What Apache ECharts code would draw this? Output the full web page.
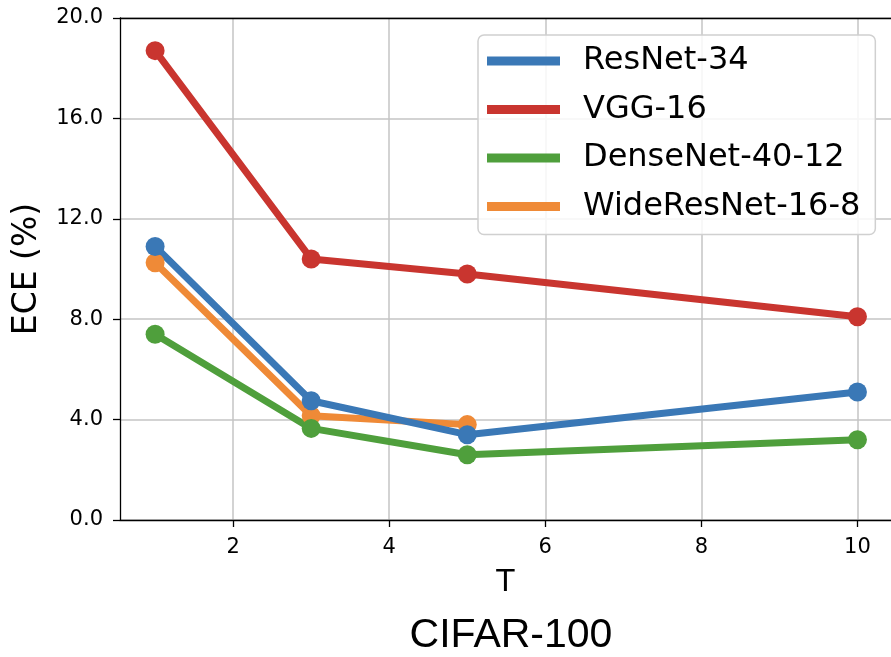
<!DOCTYPE html>
<html>
<head>
<meta charset="utf-8">
<script src="https://cdn.jsdelivr.net/npm/echarts@6/dist/echarts.min.js"></script>
<style>
html,body{margin:0;padding:0;background:#fff;}
#main{width:891px;height:657px;}
</style>
</head>
<body>
<div id="main"></div>
<script>
var xValues = [1, 3, 5, 10];
var resnet34 = [10.9, 4.75, 3.4, 5.1];
var vgg16 = [18.7, 10.4, 9.8, 8.1];
var densenet = [7.4, 3.65, 2.6, 3.2];
var wideresnet = [10.25, 4.15, 3.8, null];
var seriesNames = ['ResNet-34', 'VGG-16', 'DenseNet-40-12', 'WideResNet-16-8'];
var colors = {'ResNet-34': '#3a78b6', 'VGG-16': '#c9352f', 'DenseNet-40-12': '#4f9f3c', 'WideResNet-16-8': '#ef8a37'};
var xTicks = [2, 4, 6, 8, 10];

function pairs(vals) {
  var out = [];
  for (var i = 0; i < xValues.length; i++) {
    if (vals[i] !== null) out.push([xValues[i], vals[i]]);
  }
  return out;
}
function mk(name, vals) {
  return {
    name: name, type: 'line', data: pairs(vals),
    symbol: 'circle', symbolSize: 19, showSymbol: true,
    lineStyle: {width: 7, color: colors[name]},
    itemStyle: {color: colors[name]},
    emphasis: {disabled: true},
    animation: false
  };
}
var font = 'DejaVu Sans';
var chart = echarts.init(document.getElementById('main'), null, {renderer: 'canvas'});
chart.setOption({
  animation: false,
  title: {
    text: 'CIFAR-100', left: 506, top: 610, textAlign: 'center',
    textStyle: {fontFamily: 'Liberation Sans', fontSize: 41, fontWeight: 'normal', color: '#000'}
  },
  grid: {left: 120, top: 18, bottom: 137, right: 0},
  legend: {
    data: seriesNames,
    orient: 'vertical', left: 478, top: 35,
    padding: [10, 15, 12, 9],
    itemGap: 16.5, itemWidth: 73, itemHeight: 9, icon: 'rect',
    borderColor: '#d0d0d0', borderWidth: 1.5, borderRadius: 6,
    backgroundColor: 'rgba(255,255,255,0.85)',
    textStyle: {fontFamily: font, fontSize: 32, color: '#000', lineHeight: 31, padding: [0, 0, 0, 18]}
  },
  xAxis: [{
    type: 'value', min: 0.55, max: 10.43, interval: 2,
    name: 'T', nameLocation: 'middle', nameGap: 48,
    nameTextStyle: {fontFamily: font, fontSize: 30, color: '#000'},
    axisLine: {show: true, lineStyle: {color: '#000', width: 1.3}},
    axisTick: {show: true, length: 7, lineStyle: {color: '#000', width: 1.3}, customValues: xTicks},
    axisLabel: {fontFamily: font, fontSize: 21, color: '#000', margin: 17, customValues: xTicks},
    splitLine: {show: true, lineStyle: {color: '#c4c4c4', width: 1.5}}
  }, {
    type: 'value', position: 'top', min: 0.55, max: 10.43,
    axisLine: {show: true, onZero: false, lineStyle: {color: '#000', width: 1.3}},
    axisTick: {show: false}, axisLabel: {show: false}, splitLine: {show: false}
  }],
  yAxis: {
    type: 'value', min: 0, max: 20, interval: 4,
    name: 'ECE (%)', nameLocation: 'middle', nameGap: 76, nameRotate: 90,
    nameTextStyle: {fontFamily: font, fontSize: 33, color: '#000', padding: [0, 0, 0, 0]},
    axisLine: {show: true, lineStyle: {color: '#000', width: 1.3}},
    axisTick: {show: true, length: 7, lineStyle: {color: '#000', width: 1.3}},
    axisLabel: {fontFamily: font, fontSize: 21, color: '#000', margin: 17, formatter: function (v) { return v.toFixed(1); }},
    splitLine: {show: true, lineStyle: {color: '#c4c4c4', width: 1.5}}
  },
  series: [
    mk('WideResNet-16-8', wideresnet),
    mk('DenseNet-40-12', densenet),
    mk('VGG-16', vgg16),
    mk('ResNet-34', resnet34)
  ]
});
</script>
</body>
</html>
